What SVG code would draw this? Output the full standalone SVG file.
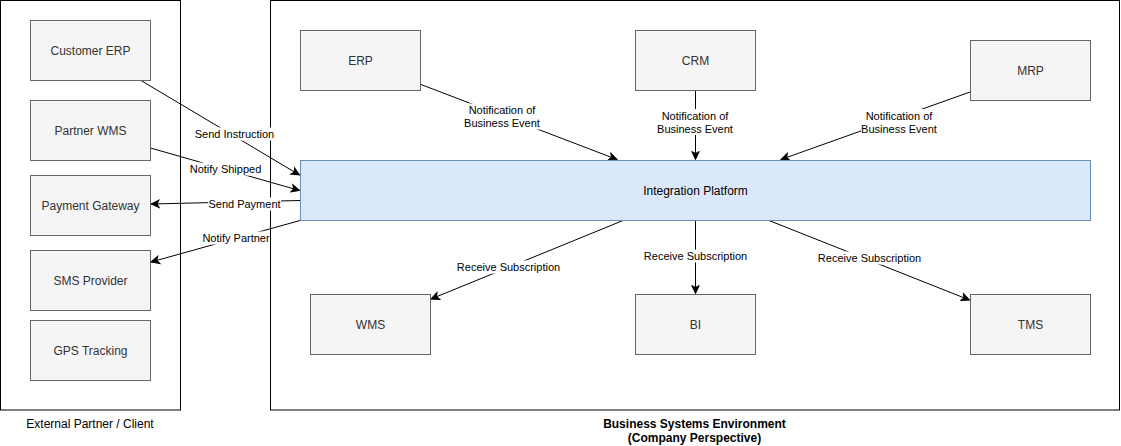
<svg xmlns="http://www.w3.org/2000/svg" width="1121" height="446" viewBox="0 0 1121 446">
<style>
.container{fill:#ffffff;stroke:#000000;stroke-width:1}
.node rect{fill:#f5f5f5;stroke:#666666;stroke-width:1}
.node text{font-family:"Liberation Sans",Arial,sans-serif;font-size:12px;fill:#333333;text-anchor:middle}
#integration rect{fill:#dae8fc;stroke:#6c8ebf}
#integration text{fill:#000000}
.edge{stroke:#000000;stroke-width:1;fill:none;marker-end:url(#arrow)}
.lblbg{fill:#ffffff}
.lbl{font-family:"Liberation Sans",Arial,sans-serif;font-size:11px;fill:#000000;text-anchor:middle}
.title{font-family:"Liberation Sans",Arial,sans-serif;font-size:12px;fill:#000000;text-anchor:middle}
.bold{font-weight:bold}
</style>
<defs>
<marker id="arrow" markerUnits="userSpaceOnUse" markerWidth="10" markerHeight="10" viewBox="0 0 10 10" refX="9" refY="5" orient="auto">
<path d="M1,1.3 L9,5 L1,8.7 L3,5 Z" fill="#000000" stroke="#000000" stroke-width="1"/>
</marker>
</defs>
<rect width="1121" height="446" fill="#ffffff"/>
<g id="external-container">
<rect class="container" x="0.5" y="0.5" width="180" height="409.5"/>
<text class="title" x="90" y="427.5">External Partner / Client</text>
</g>
<g id="business-container">
<rect class="container" x="270.5" y="0.5" width="849" height="409.5"/>
<text class="title bold" x="694.5" y="427.5">Business Systems Environment</text>
<text class="title bold" x="694.5" y="441.5">(Company Perspective)</text>
</g>
<g id="connectors">
<line class="edge" x1="141" y1="80.5" x2="299.5" y2="175"/>
<line class="edge" x1="150.5" y1="148" x2="299.5" y2="190.5"/>
<line class="edge" x1="300" y1="200.5" x2="151" y2="204"/>
<line class="edge" x1="300" y1="220.5" x2="151" y2="262"/>
<line class="edge" x1="421" y1="84.5" x2="617" y2="159.5"/>
<line class="edge" x1="695.5" y1="90.5" x2="695.5" y2="159.5"/>
<line class="edge" x1="970" y1="92" x2="781" y2="159.5"/>
<line class="edge" x1="623" y1="220.5" x2="431" y2="299"/>
<line class="edge" x1="695.5" y1="220.5" x2="695.5" y2="293.5"/>
<line class="edge" x1="769" y1="220.5" x2="969.5" y2="300"/>
<g id="edge-labels">
<rect class="lblbg" x="194" y="127.5" width="81" height="13"/>
<text class="lbl" x="234.5" y="138">Send Instruction</text>
<rect class="lblbg" x="189" y="162.5" width="73" height="13"/>
<text class="lbl" x="225.5" y="173">Notify Shipped</text>
<rect class="lblbg" x="208" y="197.5" width="73" height="13"/>
<text class="lbl" x="244.5" y="208">Send Payment</text>
<rect class="lblbg" x="202" y="231.5" width="68" height="13"/>
<text class="lbl" x="236" y="242">Notify Partner</text>
<rect class="lblbg" x="464" y="103.5" width="76" height="26"/>
<text class="lbl" x="502" y="114">Notification of</text>
<text class="lbl" x="502" y="127">Business Event</text>
<rect class="lblbg" x="657" y="109" width="76" height="26"/>
<text class="lbl" x="695" y="119.5">Notification of</text>
<text class="lbl" x="695" y="132.5">Business Event</text>
<rect class="lblbg" x="861" y="109" width="76" height="26"/>
<text class="lbl" x="899" y="119.5">Notification of</text>
<text class="lbl" x="899" y="132.5">Business Event</text>
<rect class="lblbg" x="456" y="260.5" width="105" height="13"/>
<text class="lbl" x="508.5" y="271">Receive Subscription</text>
<rect class="lblbg" x="643" y="249.5" width="105" height="13"/>
<text class="lbl" x="695.5" y="260">Receive Subscription</text>
<rect class="lblbg" x="817" y="251.5" width="105" height="13"/>
<text class="lbl" x="869.5" y="262">Receive Subscription</text>
</g>
</g>
<g id="customer-erp" class="node"><rect x="30.5" y="20.5" width="120" height="60"/><text x="90.5" y="54.5">Customer ERP</text></g>
<g id="partner-wms" class="node"><rect x="30.5" y="100.5" width="120" height="60"/><text x="90.5" y="134.5">Partner WMS</text></g>
<g id="payment-gateway" class="node"><rect x="30.5" y="175.5" width="120" height="60"/><text x="90.5" y="209.5">Payment Gateway</text></g>
<g id="sms-provider" class="node"><rect x="30.5" y="250.5" width="120" height="60"/><text x="90.5" y="284.5">SMS Provider</text></g>
<g id="gps-tracking" class="node"><rect x="30.5" y="320.5" width="120" height="60"/><text x="90.5" y="354.5">GPS Tracking</text></g>
<g id="erp" class="node"><rect x="300.5" y="30.5" width="120" height="60"/><text x="360.5" y="64.5">ERP</text></g>
<g id="crm" class="node"><rect x="635.5" y="30.5" width="120" height="60"/><text x="695.5" y="64.5">CRM</text></g>
<g id="mrp" class="node"><rect x="970.5" y="40.5" width="120" height="60"/><text x="1030.5" y="74.5">MRP</text></g>
<g id="integration" class="node"><rect x="300.5" y="160.5" width="790" height="60"/><text x="695.5" y="194.5">Integration Platform</text></g>
<g id="wms" class="node"><rect x="310.5" y="294.5" width="120" height="60"/><text x="370.5" y="328.5">WMS</text></g>
<g id="bi" class="node"><rect x="635.5" y="294.5" width="120" height="60"/><text x="695.5" y="328.5">BI</text></g>
<g id="tms" class="node"><rect x="970.5" y="294.5" width="120" height="60"/><text x="1030.5" y="328.5">TMS</text></g>
</svg>
